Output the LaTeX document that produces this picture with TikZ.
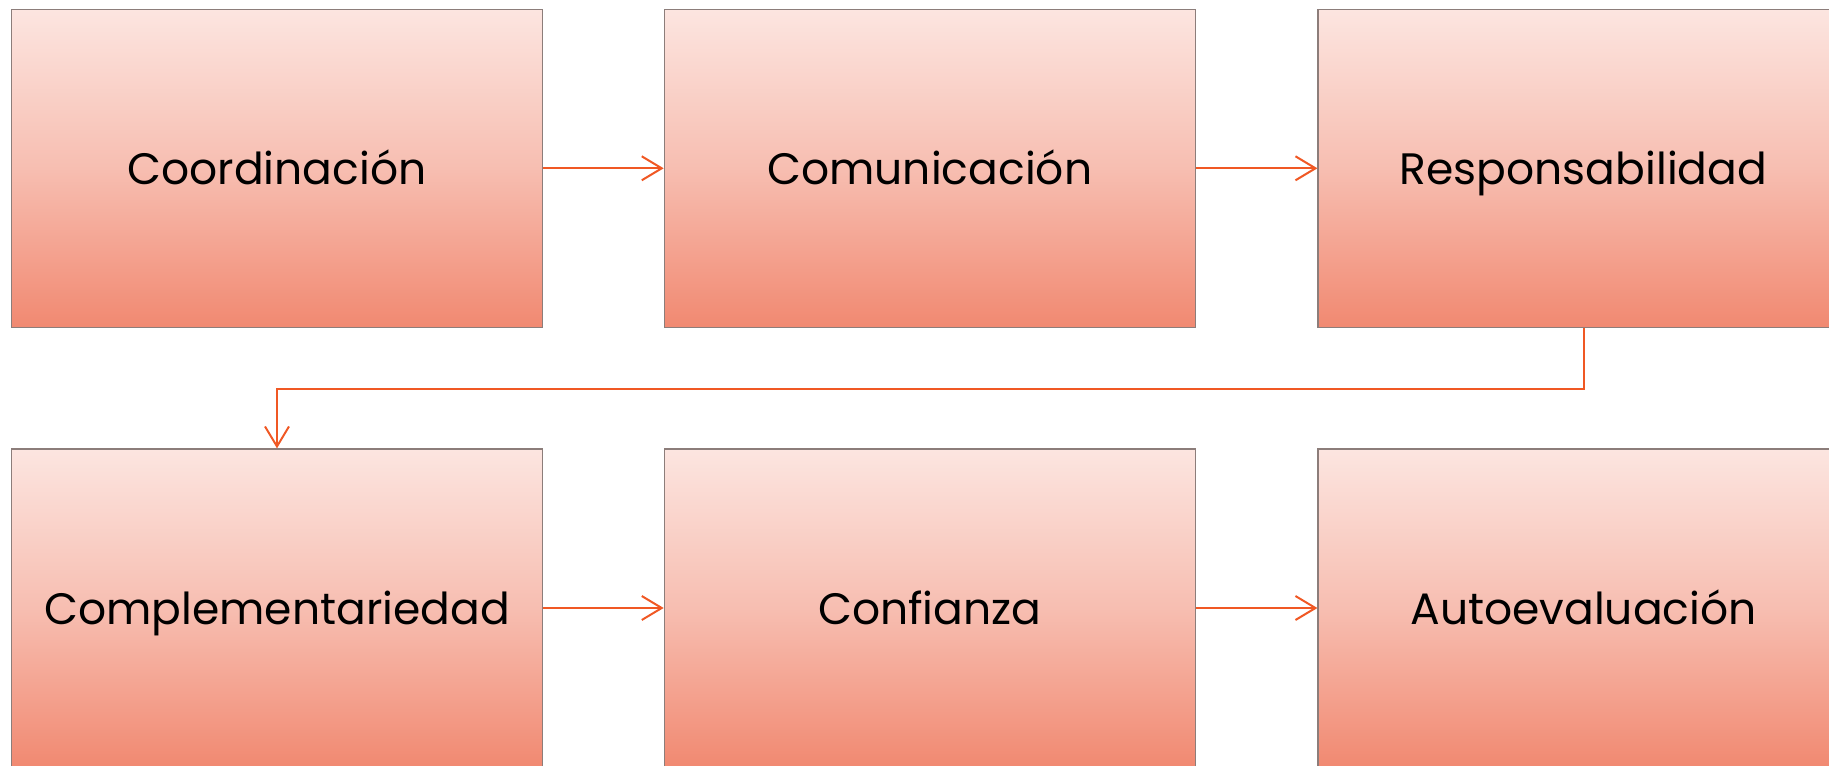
\documentclass[tikz,border=0pt]{standalone}
\usepackage{fontspec}
\setmainfont{Poppins}
\usetikzlibrary{arrows.meta}
\definecolor{boxtop}{RGB}{252,229,224}
\definecolor{boxmid}{RGB}{247,190,177}
\definecolor{boxbot}{RGB}{241,137,113}
\definecolor{boxline}{RGB}{140,125,122}
\definecolor{arr}{RGB}{240,88,36}
\tikzset{
  stepbox/.style={rectangle, draw=boxline, line width=0.6pt,
    minimum width=265.5pt, minimum height=159pt, inner sep=0pt,
    top color=boxtop, bottom color=boxbot, middle color=boxmid,
    text height=16.5pt, text depth=0.5pt,
    font=\fontsize{22}{26}\selectfont, text=black},
  flow/.style={draw=arr, line width=1pt, -{Straight Barb[length=10pt,width=12pt,line width=1pt]}}
}
\begin{document}
\begin{tikzpicture}[x=0.5pt,y=-0.5pt]
\useasboundingbox (0,0) rectangle (1829,765);
\node[stepbox] (b1) at (277,168.3) {Coordinación};
\node[stepbox] (b2) at (929.8,168.3) {Comunicación};
\node[stepbox] (b3) at (1583.5,168.3) {Responsabilidad};
\node[stepbox] (b4) at (277,608) {Complementariedad};
\node[stepbox] (b5) at (929.8,608) {Confianza};
\node[stepbox] (b6) at (1583.5,608) {Autoevaluación};
\coordinate (c1) at (1583.5,388.5);
\coordinate (c2) at (277,388.5);
\draw[flow] (b1.east) -- (b2.west);
\draw[flow] (b2.east) -- (b3.west);
\draw[flow] (b4.east) -- (b5.west);
\draw[flow] (b5.east) -- (b6.west);
\draw[flow] (b3.south) -- (c1) -- (c2) -- (b4.north);
\end{tikzpicture}
\end{document}
